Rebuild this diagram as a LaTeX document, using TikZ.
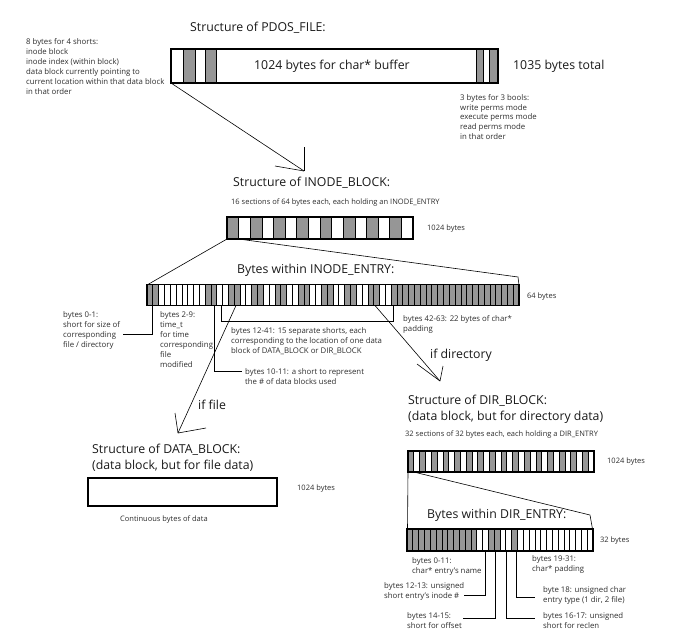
\documentclass[tikz,border=0pt]{standalone}
\usepackage{fontspec}
\setmainfont{Open Sans}
\definecolor{cellgray}{RGB}{150,150,150}
\definecolor{ink}{RGB}{25,25,25}
\definecolor{noteink}{RGB}{45,45,45}

% \cellbar{name}{x}{y}{width}{height}{cells}{cells-1}{grey cell list}
\newcommand{\cellbar}[8]{%
  \pgfmathsetmacro{\cw}{#4/#6}%
  \foreach \k in {#8} {\fill[cellgray] ({#2+\k*\cw},#3) rectangle ({#2+(\k+1)*\cw},{#3+#5});}
  \foreach \k in {1,...,#7} {\draw[cellline] ({#2+\k*\cw},#3) -- ({#2+\k*\cw},{#3+#5});}
  \node[barframe, minimum width=#4pt, minimum height=#5pt, anchor=north west] (#1) at (#2,#3) {};
}

\begin{document}
\begin{tikzpicture}[x=1pt,y=-1pt,
  heading/.style={font=\fontsize{12.3}{16}\selectfont, text=ink, anchor=west, inner sep=0, align=left},
  headblock/.style={font=\fontsize{12.3}{16}\selectfont, text=ink, anchor=north west, inner sep=0, align=left},
  note/.style={font=\fontsize{7.8}{9.9}\selectfont, text=noteink, anchor=north west, inner sep=0, align=left},
  tag/.style={font=\fontsize{7.5}{9.8}\selectfont, text=noteink, anchor=west, inner sep=0},
  barframe/.style={draw, line width=1.1pt, inner sep=0, outer sep=0},
  cellline/.style={line width=0.7pt},
  link/.style={line width=0.6pt},
  lead/.style={line width=0.9pt}]
\useasboundingbox (0,0) rectangle (677,643);

% ---------------- PDOS_FILE ----------------
\node[heading] (pdostitle) at (190,28) {Structure of PDOS\_FILE:};
\fill[cellgray] (183,49) rectangle (195,83);
\fill[cellgray] (205,49) rectangle (216,83);
\fill[cellgray] (476,49) rectangle (483,83);
\fill[cellgray] (489,49) rectangle (498,83);
\foreach \xx in {183,195,205,216,476,483,489}
  \draw[cellline] (\xx,49) -- (\xx,83);
\node[barframe, minimum width=327pt, minimum height=34pt, anchor=north west] (pdos) at (171,49) {};
\node[heading] (buf) at (254,66) {1024 bytes for char* buffer};
\node[heading] (total) at (513,66) {1035 bytes total};
\node[note] (shorts) at (26,38.5) {8 bytes for 4 shorts:\\inode block\\inode index (within block)\\data block currently pointing to\\current location within that data block\\in that order};
\node[note] (bools) at (460,94) {3 bytes for 3 bools:\\write perms mode\\execute perms mode\\read perms mode\\in that order};

% arrow down to the inode block
\coordinate (tipA) at (304,171);
\draw[link] (pdos.south west) -- (tipA);
\draw[link] (304,147) -- (tipA);
\draw[link] (275,166) -- (tipA);

% ---------------- INODE_BLOCK ----------------
\node[heading] (inodetitle) at (233,183) {Structure of INODE\_BLOCK:};
\node[tag] (inodenote) at (231,203) {16 sections of 64 bytes each, each holding an INODE\_ENTRY};
\cellbar{iblock}{227}{217}{186}{22}{16}{15}{0,2,...,14}
\node[tag] (iblocksize) at (427,229) {1024 bytes};

% zoom lines onto one INODE_ENTRY
\coordinate (izoomR) at (518,277);
\draw[link] (iblock.south west) -- (147,285);
\draw[link] (238.6,239) -- (izoomR) -- (519,285);

% ---------------- INODE_ENTRY ----------------
\node[heading] (ientrytitle) at (237,270) {Bytes within INODE\_ENTRY:};
\cellbar{ientry}{147}{284.5}{372}{21}{64}{63}{0,1,10,11,14,15,18,19,22,23,26,27,30,31,34,35,38,39,42,43,...,63}
\node[tag] (ientrysize) at (527,297) {64 bytes};

% bytes 0-1
\draw[lead] (152.8,305.5) -- (152.8,334) -- (122.7,334);
\node[note] (b01) at (63,311.5) {bytes 0-1:\\short for size of\\corresponding\\file / directory};
% bytes 2-9
\node[note] (b29) at (160,311.5) {bytes 2-9:\\time\_t\\for time\\corresponding\\file\\modified};
% bytes 10-11
\draw[lead] (214.3,305.5) -- (214.3,371.7) -- (241.7,371.7);
\node[note] (b1011) at (245,368.5) {bytes 10-11: a short to represent\\the \# of data blocks used};
% bytes 12-41
\draw[lead] (221,305.5) -- (221,321) -- (393,321) -- (393,305.5);
\node[note] (b1241) at (231,327.5) {bytes 12-41: 15 separate shorts, each\\corresponding to the location of one data\\block of DATA\_BLOCK or DIR\_BLOCK};
% bytes 42-63
\node[note] (b4263) at (403,315.5) {bytes 42-63: 22 bytes of char*\\padding};

% ---------------- if file ----------------
\coordinate (tipF) at (178,433);
\draw[link] (236,305.5) -- (tipF);
\draw[link] (175,413) -- (tipF);
\draw[link] (206,428) -- (tipF);
\node[heading] (iffile) at (198,405) {if file};

% ---------------- DATA_BLOCK ----------------
\node[headblock] (datatitle) at (92,444) {Structure of DATA\_BLOCK:\\(data block, but for file data)};
\node[barframe, minimum width=189pt, minimum height=28pt, anchor=north west] (dblock) at (88,478) {};
\node[tag] (dblocksize) at (297,489) {1024 bytes};
\node[tag] (dblocknote) at (120,520) {Continuous bytes of data};

% ---------------- if directory ----------------
\coordinate (tipD) at (440,381);
\draw[link] (375,305.5) -- (tipD);
\draw[link] (417,364) -- (tipD);
\draw[link] (443,366) -- (tipD);
\node[heading] (ifdir) at (430,355) {if directory};

% ---------------- DIR_BLOCK ----------------
\node[headblock] (dirtitle) at (408,395) {Structure of DIR\_BLOCK:\\(data block, but for directory data)};
\node[tag] (dirnote) at (405,435) {32 sections of 32 bytes each, each holding a DIR\_ENTRY};
\cellbar{dblk}{408}{451}{186}{21}{32}{31}{0,2,...,30}
\node[tag] (dblksize) at (607,462) {1024 bytes};

% zoom lines onto one DIR_ENTRY
\coordinate (dzoomR) at (590,515);
\draw[link] (dblk.south west) -- (407.5,529);
\draw[link] (413.8,472) -- (dzoomR) -- (592.5,529);

% ---------------- DIR_ENTRY ----------------
\node[heading] (dentrytitle) at (427,515) {Bytes within DIR\_ENTRY:};
\cellbar{dentry}{407}{529}{186}{22}{32}{31}{0,1,...,11,14,15,18}
\node[tag] (dentrysize) at (600,541) {32 bytes};

\node[note] (d011) at (412,557.5) {bytes 0-11:\\char* entry's name};
\node[note] (d1931) at (532,555.5) {bytes 19-31:\\char* padding};
% bytes 12-13
\draw[lead] (485,551) -- (485,595) -- (464,595);
\node[note] (d1213) at (384,582.5) {bytes 12-13: unsigned\\short entry's inode \#};
% bytes 14-15
\draw[lead] (495.7,551) -- (495.7,618) -- (463,618);
\node[note] (d1415) at (407,612.5) {bytes 14-15:\\short for offset};
% bytes 16-17
\draw[lead] (506.7,551) -- (506.7,618) -- (535,618);
\node[note] (d1617) at (543,612.5) {bytes 16-17: unsigned\\short for reclen};
% byte 18
\draw[lead] (516.7,551) -- (516.7,597) -- (535,597);
\node[note] (d18) at (543,586.5) {byte 18: unsigned char\\entry type (1 dir, 2 file)};
\end{tikzpicture}
\end{document}
